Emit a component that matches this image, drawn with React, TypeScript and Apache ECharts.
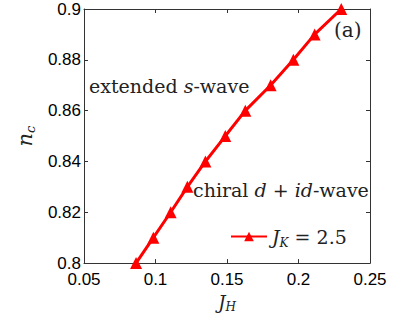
import React, { useEffect, useRef } from "react";
import * as echarts from "echarts";

const jH = [0.0864, 0.0985, 0.1106, 0.1223, 0.1349, 0.1488, 0.1628, 0.1805, 0.1964, 0.2113, 0.2299];
const nC = [0.8, 0.81, 0.82, 0.83, 0.84, 0.85, 0.86, 0.87, 0.88, 0.89, 0.9];
const xTicks = { min: 0.05, max: 0.25, interval: 0.05 };
const yTicks = { min: 0.8, max: 0.9, interval: 0.02 };
const seriesName = "JK2.5";

const fmt = (v: number) => String(parseFloat(v.toFixed(3)));
const SERIF = "DejaVu Serif";
const SANS = "Liberation Sans";

export default function App() {
  const ref = useRef<HTMLDivElement>(null);
  useEffect(() => {
    const chart = echarts.init(ref.current!, null, { renderer: "svg" });
    const axisCommon = {
      axisLine: { show: true, lineStyle: { color: "#333", width: 1 } },
      axisTick: { show: true, inside: true, length: 4, lineStyle: { color: "#333" } },
      splitLine: { show: false },
    };
    const fs = 19;
    chart.setOption({
      animation: false,
      backgroundColor: "#fff",
      grid: { left: 84, right: 33, top: 9, bottom: 50 },
      xAxis: [
        {
          type: "value",
          ...xTicks,
          position: "bottom",
          ...axisCommon,
          axisLabel: { fontFamily: SANS, fontSize: 17, color: "#000", margin: 8, formatter: fmt },
          name: "{i|J}{s|H}",
          nameLocation: "middle",
          nameGap: 23,
          nameTextStyle: {
            rich: {
              i: { fontFamily: SERIF, fontStyle: "italic", fontSize: 18, color: "#222", lineHeight: 22, verticalAlign: "middle" },
              s: { fontFamily: SERIF, fontStyle: "italic", fontSize: 12, color: "#222", lineHeight: 11, verticalAlign: "bottom" },
            },
          },
        },
        {
          type: "value",
          ...xTicks,
          position: "top",
          ...axisCommon,
          axisLabel: { show: false },
        },
      ],
      yAxis: [
        {
          type: "value",
          ...yTicks,
          position: "left",
          ...axisCommon,
          axisLabel: { fontFamily: SANS, fontSize: 17, color: "#000", margin: 3, formatter: fmt },
          name: "{i|n}{s|c}",
          nameLocation: "middle",
          nameRotate: 90,
          nameGap: 42,
          nameTextStyle: {
            rich: {
              i: { fontFamily: SERIF, fontStyle: "italic", fontSize: 21, color: "#222", lineHeight: 24, verticalAlign: "middle" },
              s: { fontFamily: SERIF, fontStyle: "italic", fontSize: 13, color: "#222", lineHeight: 12, verticalAlign: "bottom" },
            },
          },
        },
        {
          type: "value",
          ...yTicks,
          position: "right",
          ...axisCommon,
          axisLabel: { show: false },
        },
      ],
      legend: {
        show: true,
        left: 225,
        top: 222,
        itemWidth: 36,
        itemHeight: 12,
        data: [seriesName],
        formatter: () => "{i|J}{s|K}{r| = 2.5}",
        textStyle: {
          rich: {
            i: { fontFamily: SERIF, fontStyle: "italic", fontSize: 19, color: "#222", lineHeight: 24, verticalAlign: "middle" },
            s: { fontFamily: SERIF, fontStyle: "italic", fontSize: 12, color: "#222", lineHeight: 12, verticalAlign: "bottom" },
            r: { fontFamily: SERIF, fontSize: 19, color: "#222", lineHeight: 24, verticalAlign: "middle" },
          },
        },
      },
      graphic: [
        {
          type: "text",
          x: 89,
          y: 76,
          style: {
            text: "{r|extended }{i|s}{r|-wave}",
            rich: {
              r: { fontFamily: SERIF, fontSize: fs, fill: "#222" },
              i: { fontFamily: SERIF, fontSize: fs, fontStyle: "italic", fill: "#222" },
            },
          },
        },
        {
          type: "text",
          x: 193,
          y: 180,
          style: {
            text: "{r|chiral }{i|d}{r| + }{i|id}{r|-wave}",
            rich: {
              r: { fontFamily: SERIF, fontSize: fs, fill: "#222" },
              i: { fontFamily: SERIF, fontSize: fs, fontStyle: "italic", fill: "#222" },
            },
          },
        },
        {
          type: "text",
          x: 334,
          y: 20,
          style: { text: "(a)", fontFamily: SERIF, fontSize: 20, fill: "#222" },
        },
      ],
      series: [
        {
          name: seriesName,
          type: "line",
          data: jH.map((x, i) => [x, nC[i]]),
          symbol: "triangle",
          symbolSize: 12,
          lineStyle: { color: "#ff0000", width: 3 },
          itemStyle: { color: "#ff0000" },
          z: 3,
        },
      ],
    });
    return () => chart.dispose();
  }, []);
  return <div ref={ref} style={{ width: 403, height: 318, position: "absolute", left: 0, top: 0 }} />;
}
